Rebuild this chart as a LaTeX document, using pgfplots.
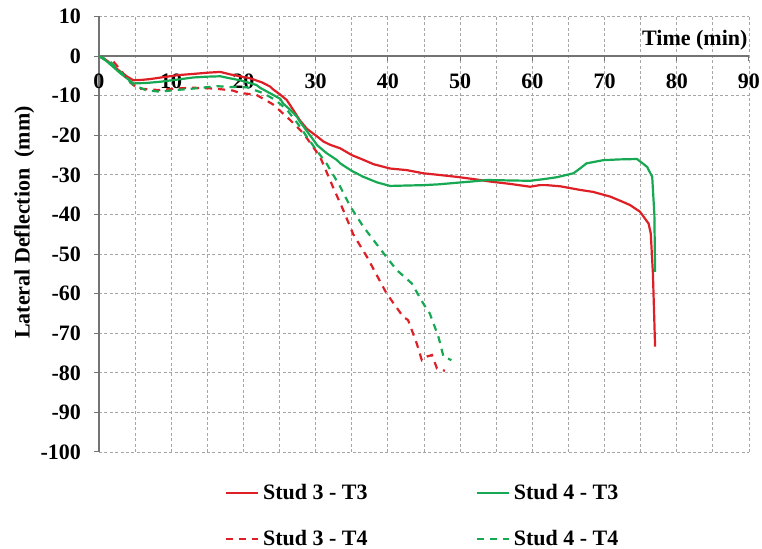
\documentclass[border=0pt]{standalone}
\usepackage{fontspec}
\setmainfont{Liberation Serif}
\usepackage{pgfplots}
\pgfplotsset{compat=1.18}
\definecolor{cred}{RGB}{222,32,38}
\definecolor{cgreen}{RGB}{22,168,82}
\newcommand{\ff}{\bfseries\fontsize{11pt}{13pt}\selectfont}
\begin{document}
\begin{tikzpicture}
\useasboundingbox (-49.5pt,-48.5pt) rectangle (331.5pt,226pt);
\begin{axis}[
  at={(0,0)}, anchor=south west,
  scale only axis, width=325pt, height=217.75pt,
  xmin=0, xmax=90, ymin=-100, ymax=10,
  axis x line=middle, axis y line=left,
  axis line style={-, black!55, line width=0.6pt},
  xtick={0,10,...,90}, ytick={-100,-90,...,10},
  minor x tick num=1,
  grid=both,
  major grid style={dash pattern=on 1.5pt off 1.2pt, black!35, line width=0.4pt},
  minor grid style={dash pattern=on 1.5pt off 1.2pt, black!35, line width=0.4pt},
  hide obscured x ticks=false,
  tick align=outside,
  major tick length=2.5pt, minor tick length=0pt,
  tick style={black!55, line width=0.5pt},
  every tick label/.append style={font=\ff},
  /pgf/number format/assume math mode=true,
  xticklabel style={yshift=-2.7pt},
  yticklabel style={xshift=-3pt},
  ylabel={Lateral Deflection\ \ (mm)},
  ylabel style={font=\ff, at={(axis description cs:-0.115,0.527)}, anchor=center},
  legend columns=2,
  legend cell align=left,
  legend image code/.code={\draw[#1] (0pt,0pt) -- (16pt,0pt);},
  legend style={draw=none, fill=none, inner sep=0pt, font=\ff,
    at={(axis description cs:0.193,-0.063)}, anchor=north west,
    /tikz/every even column/.append style={column sep=52pt},
    row sep=10pt},
]
\addplot[cred, line width=1.1pt] coordinates {
(0,0) (1,-1) (2,-2.5) (3,-4) (4,-5.3) (4.75,-6.1) (6,-6) (7.1,-5.8) (9,-5.3)
(11,-4.8) (13.1,-4.5) (15,-4.2) (16.8,-4.0) (18.1,-4.6) (19.5,-5.1) (20.9,-5.6)
(22.5,-6.6) (23.7,-7.7) (24.1,-8.4) (25,-9.6) (26,-11.1) (26.9,-13.6) (27.8,-16.2)
(28.8,-18.4) (30.2,-20.3) (31.1,-21.6) (32,-22.4) (33.4,-23.3) (35,-25.0) (36.6,-26.2)
(38,-27.3) (40.3,-28.4) (42.6,-28.8) (44.9,-29.6) (47,-30.0) (49.5,-30.5) (52,-31.1)
(54.2,-31.7) (57,-32.3) (59.7,-33) (61,-32.6) (62,-32.6) (63.9,-32.9) (66.6,-33.8)
(68.4,-34.3) (70.8,-35.5) (72.5,-36.8) (73.5,-37.6) (74.9,-39.3) (76.1,-42.3)
(76.4,-44.8) (76.7,-55) (77,-73.4)
};
\addlegendentry{Stud 3 - T3}
\addplot[cgreen, line width=1.1pt] coordinates {
(0,0) (1,-1.2) (2,-2.8) (3,-4.4) (4,-5.8) (4.75,-6.9) (6.5,-6.8) (8.4,-6.5) (11,-5.9)
(13.1,-5.4) (15,-5.2) (16.8,-5.1) (18.1,-5.6) (19.5,-6.1) (21.8,-7.3) (22.3,-8.0)
(23.5,-9.2) (25.1,-10.8) (25.5,-12) (26.5,-13.6) (27.4,-15.3) (27.8,-16.5) (28.8,-19)
(29.7,-21.2) (30.2,-22.5) (31.5,-24.5) (32.9,-26.2) (33.4,-27.1) (35,-29) (36.6,-30.5)
(38.5,-31.9) (40.3,-32.8) (42.5,-32.7) (44.9,-32.6) (47,-32.4) (49.5,-32) (51.5,-31.7)
(53.7,-31.3) (56.5,-31.4) (59.7,-31.5) (61.5,-31.1) (63.4,-30.6) (65.7,-29.6)
(66.6,-28.4) (67.5,-27.1) (69.8,-26.3) (72,-26.1) (74.5,-26) (75.9,-28) (76.6,-30.5)
(76.9,-40) (77,-54.5)
};
\addlegendentry{Stud 4 - T3}
\addplot[cred, line width=1.1pt, dash pattern=on 3.5pt off 3pt] coordinates {
(2,-1.4) (3,-3.5) (4.2,-6.5) (5.4,-8.2) (8.4,-8.6) (10.5,-8.2) (13.1,-8.0) (16,-8.2)
(18.5,-8.7) (19.5,-9.3) (21.8,-9.8) (24.1,-12.2) (26.5,-16.2) (28.3,-19.5) (30.6,-25.4)
(32.5,-33.5) (33.8,-38.8) (35.2,-45) (37.1,-50.7) (39.8,-59.9) (42.1,-65.8) (42.8,-66.7)
(44,-72.6) (44.7,-76.8) (45.4,-75.9) (46.1,-75.5) (46.8,-78.9) (47.9,-79.5)
};
\addlegendentry{Stud 3 - T4}
\addplot[cgreen, line width=1.1pt, dash pattern=on 3.5pt off 3pt] coordinates {
(0,0) (1.5,-1.3) (3,-4) (4.75,-7.3) (6.5,-8.6) (8.4,-9) (10.5,-8.6) (13.1,-8.2)
(16.3,-7.6) (18.1,-7.8) (20.5,-7.9) (22.8,-9.4) (24.5,-11.2) (26,-13.5) (27.5,-17)
(28.8,-20.4) (30,-23.5) (31.5,-27.1) (33.4,-33) (34.8,-38) (36.6,-43.1) (39.4,-49.8)
(41.2,-54) (43.3,-57.4) (44.9,-62.5) (45.8,-65) (47,-70.9) (47.7,-75.9) (48.8,-76.8)
};
\addlegendentry{Stud 4 - T4}
\node[font=\ff] at (axis cs:82.5,4.1) {Time (min)};
\end{axis}
\end{tikzpicture}
\end{document}
